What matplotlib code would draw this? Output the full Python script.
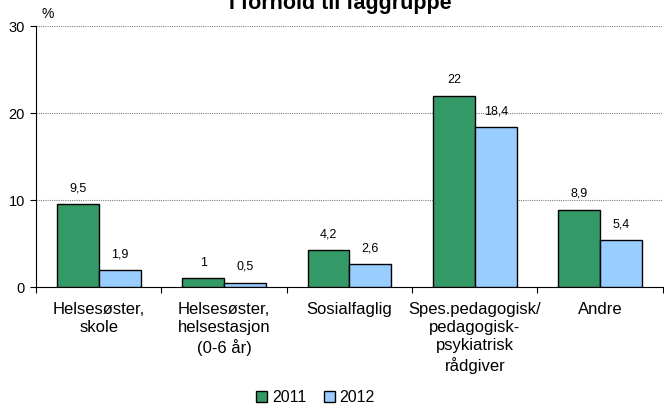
import numpy as np
import matplotlib.pyplot as plt

plt.rcParams['font.family'] = ['Liberation Sans', 'DejaVu Sans']

categories = ['Helsesøster,\nskole', 'Helsesøster,\nhelsestasjon\n(0-6 år)', 'Sosialfaglig',
              'Spes.pedagogisk/\npedagogisk-\npsykiatrisk\nrådgiver', 'Andre']
v2011 = [9.5, 1.0, 4.2, 22.0, 8.9]
v2012 = [1.9, 0.5, 2.6, 18.4, 5.4]
labels2011 = ['9,5', '1', '4,2', '22', '8,9']
labels2012 = ['1,9', '0,5', '2,6', '18,4', '5,4']

fig = plt.figure(figsize=(6.64, 4.07), dpi=100)
ax = fig.add_axes([0.0542, 0.2948, 0.944, 0.6413])

x = np.arange(len(categories))
w = 0.334
b1 = ax.bar(x - w/2, v2011, w, color='#339966', edgecolor='black', linewidth=1.0, label='2011', zorder=3)
b2 = ax.bar(x + w/2, v2012, w, color='#99ccff', edgecolor='black', linewidth=1.0, label='2012', zorder=3)
ax.bar_label(b1, labels=labels2011, padding=7, fontsize=9)
ax.bar_label(b2, labels=labels2012, padding=7, fontsize=9)

ax.set_xlim(-0.5, len(categories) - 0.5)
ax.set_ylim(0, 30)
ax.set_yticks([0, 10, 20, 30])
ax.yaxis.grid(True, linestyle=(0, (1, 1)), color='#808080', linewidth=0.8, zorder=0)
ax.set_xticks(np.arange(len(categories) + 1) - 0.5, minor=False)
ax.set_xticklabels([])
ax.set_xticks(x, minor=True)
ax.set_xticklabels(categories, minor=True, fontsize=12, linespacing=1.25)
ax.tick_params(axis='x', which='minor', length=0, pad=11)
ax.tick_params(axis='x', which='major', length=4, direction='out')
ax.tick_params(axis='y', length=4, direction='out', labelsize=10.5, pad=4)
for s in ['top', 'right']:
    ax.spines[s].set_visible(False)
ax.spines['left'].set_color('black')
ax.spines['bottom'].set_color('black')

fig.text(0.062, 0.966, '%', fontsize=10, ha='left', va='center')
fig.text(0.512, 0.978, 'I forhold til faggruppe', fontsize=15.5, fontweight='bold', ha='center', va='baseline')

fig.legend(loc='lower center', bbox_to_anchor=(0.475, -0.03), ncol=2, frameon=False, fontsize=11.5,
           handlelength=0.7, handleheight=0.7, handletextpad=0.3, columnspacing=1.1)

fig.savefig('out.png', dpi=100)
